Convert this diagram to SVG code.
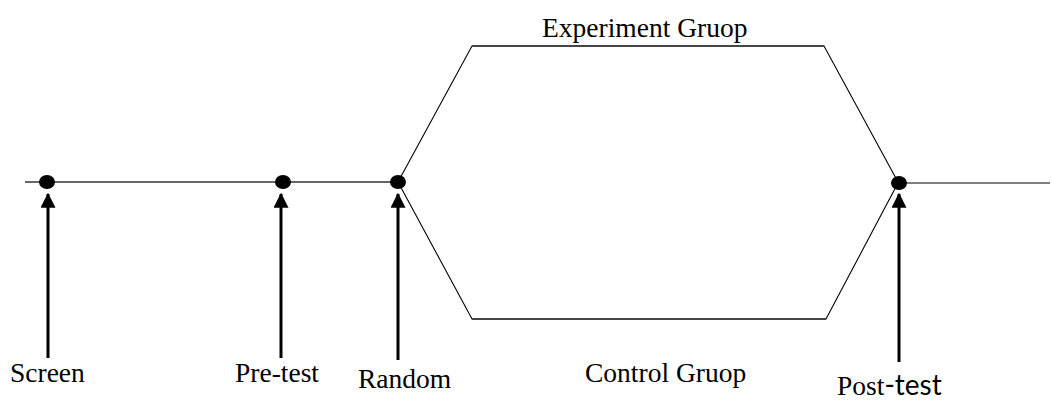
<svg xmlns="http://www.w3.org/2000/svg" width="1052" height="401" viewBox="0 0 1052 401">
<defs>
<marker id="ah" markerWidth="5" markerHeight="5" refX="4.6" refY="2.5" orient="auto" markerUnits="strokeWidth">
<path d="M0,0 L5,2.5 L0,5 z" fill="#000"/>
</marker>
</defs>
<style>
.t{font-family:"Liberation Serif","Times New Roman",serif;font-size:27.5px;fill:#000}
.s{font-family:"Lato","Open Sans",sans-serif;font-size:28px}
.ln{stroke:#333;stroke-width:1.4;fill:none}
.dg{stroke:#000;stroke-width:1.1;fill:none}
.ar{stroke:#000;stroke-width:3;fill:none;marker-end:url(#ah)}
.dot{fill:#000}
</style>
<rect width="1052" height="401" fill="#fff"/>
<g id="connectors">
<line class="ln" x1="25" y1="182" x2="398" y2="182"/>
<polyline class="dg" points="398,182 472,46 824,46 898,182"/>
<line class="ln" x1="472" y1="46" x2="824" y2="46"/>
<polyline class="dg" points="398,182 472,319 826,319 898,183"/>
<line class="ln" x1="472" y1="319" x2="826" y2="319"/>
<line class="dg" x1="899" y1="183" x2="1050" y2="183"/>
<line class="ar" x1="48" y1="358" x2="48" y2="194"/>
<line class="ar" x1="281" y1="358" x2="281" y2="194"/>
<line class="ar" x1="398" y1="360" x2="398" y2="194"/>
<line class="ar" x1="899" y1="362" x2="899" y2="194"/>
</g>
<g id="screen">
<ellipse class="dot" cx="47" cy="182" rx="8" ry="7"/>
<text class="t" x="10" y="382">Screen</text>
</g>
<g id="pretest">
<ellipse class="dot" cx="283" cy="182" rx="8" ry="7"/>
<text class="t" x="235" y="382">Pre-test</text>
</g>
<g id="random">
<ellipse class="dot" cx="398" cy="182" rx="8" ry="7"/>
<text class="t" x="358" y="388">Random</text>
</g>
<g id="experiment">
<text class="t" x="542" y="37">Experiment Gruop</text>
</g>
<g id="control">
<text class="t" x="585" y="382">Control Gruop</text>
</g>
<g id="posttest">
<ellipse class="dot" cx="899" cy="183" rx="8" ry="7"/>
<text class="t" x="837" y="395">Post<tspan class="s">-test</tspan></text>
</g>
</svg>
